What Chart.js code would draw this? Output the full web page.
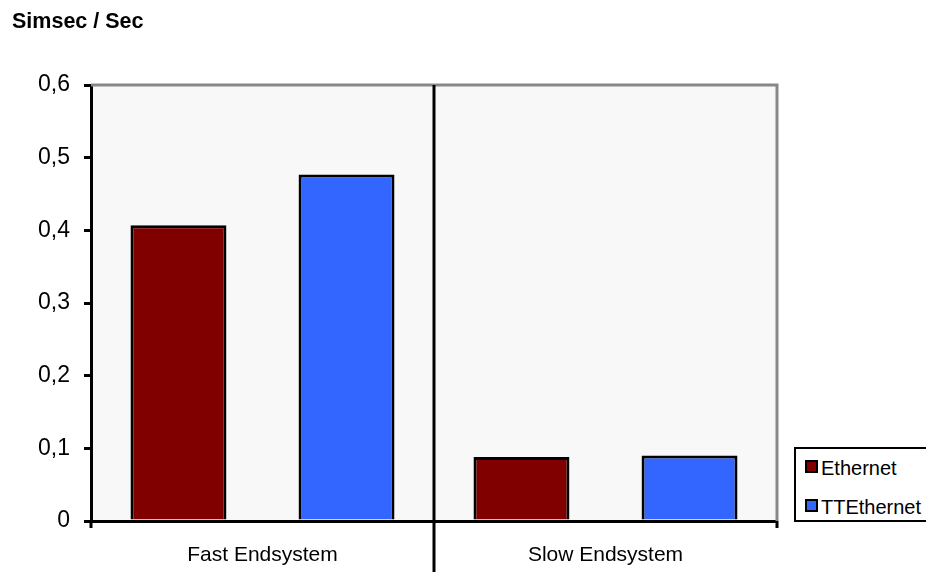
<!DOCTYPE html>
<html>
<head>
<meta charset="utf-8">
<script src="https://cdn.jsdelivr.net/npm/chart.js@4/dist/chart.umd.min.js"></script>
<style>
  body { margin: 0; background: #fff; font-family: "Liberation Sans", Arial, sans-serif; }
  #wrap { position: relative; width: 926px; height: 572px; overflow: hidden; }
  #title { position: absolute; left: 12px; top: 9px; font-size: 21.5px; font-weight: bold; color: #000; }
  #legend { position: absolute; left: 794px; top: 447px; width: 140px; height: 71px; border: 2px solid #000; background: #fff; }
  .item { position: absolute; left: 9px; font-size: 20px; color: #000; line-height: 22px; }
  .item span { display: inline-block; width: 9px; height: 9px; border: 2px solid #000; margin-right: 3px; vertical-align: 2px; }
</style>
</head>
<body>
<div id="wrap">
  <canvas id="chart" width="926" height="572"></canvas>
  <div id="title">Simsec / Sec</div>
  <div id="legend">
    <div class="item" style="top:8px"><span style="background:#800000"></span>Ethernet</div>
    <div class="item" style="top:47px"><span style="background:#3366ff"></span>TTEthernet</div>
  </div>
</div>
<script>
// Data
const categories = ["Fast Endsystem", "Slow Endsystem"];
const ethernet = [0.407, 0.088];
const ttethernet = [0.477, 0.090];
const yTicks = [0, 0.1, 0.2, 0.3, 0.4, 0.5, 0.6];

//Plot background, grey frame and the category separator
const framePlugin = {
    id: 'frame',
    beforeDraw(chart) {
        const {ctx, chartArea: a} = chart;
        ctx.save();
        ctx.fillStyle = '#f8f8f8';
        ctx.fillRect(a.left, a.top, a.right - a.left, a.bottom - a.top);
        ctx.restore();
    },
    afterDraw(chart) {
        const {ctx, chartArea: a} = chart;
        const x = chart.scales.x;
        ctx.save();
        ctx.strokeStyle = '#888';
        ctx.lineWidth = 3;
        ctx.beginPath();
        ctx.moveTo(a.left, a.top);
        ctx.lineTo(a.right, a.top);
        ctx.lineTo(a.right, a.bottom);
        ctx.stroke();
        ctx.strokeStyle = '#000';
        ctx.lineWidth = 3;
        const mid = (x.getPixelForValue(0) + x.getPixelForValue(1)) / 2;
        ctx.beginPath();
        ctx.moveTo(mid, a.top);
        ctx.lineTo(mid, chart.height);
        ctx.moveTo(a.right, a.bottom);
        ctx.lineTo(a.right, a.bottom + 7);
        ctx.moveTo(a.left, a.bottom);
        ctx.lineTo(a.left, a.bottom + 7);
        ctx.stroke();
        ctx.restore();
    }
};

new Chart(document.getElementById('chart'), {
    type: 'bar',
    data: {
        labels: categories,
        datasets: [
            {label: 'Ethernet', data: ethernet, backgroundColor: '#800000', borderColor: '#000', borderWidth: 3},
            {label: 'TTEthernet', data: ttethernet, backgroundColor: '#3366ff', borderColor: '#000', borderWidth: 3}
        ]
    },
    options: {
        responsive: false,
        animation: false,
        categoryPercentage: 0.98,
        barPercentage: 0.571,
        layout: {padding: {top: 85, right: 149, left: 0, bottom: 0}},
        plugins: {legend: {display: false}, title: {display: false}, tooltip: {enabled: false}},
        scales: {
            x: {
                grid: {display: false},
                border: {display: true, color: '#000', width: 3},
                ticks: {color: '#000', padding: 14, font: {family: 'Liberation Sans', size: 21}},
                afterFit(s) { s.height = 51; }
            },
            y: {
                min: 0,
                max: 0.6,
                afterBuildTicks(s) { s.ticks = yTicks.map(v => ({value: v})); },
                grid: {drawOnChartArea: false, drawTicks: true, tickLength: 7, color: '#000', lineWidth: 3},
                border: {display: true, color: '#000', width: 3},
                ticks: {
                    color: '#000',
                    padding: 14,
                    font: {family: 'Liberation Sans', size: 23},
                    callback: v => v === 0 ? '0' : v.toFixed(1).replace('.', ',')
                },
                afterFit(s) { s.width = 91; }
            }
        }
    },
    plugins: [framePlugin]
});
</script>
</body>
</html>
